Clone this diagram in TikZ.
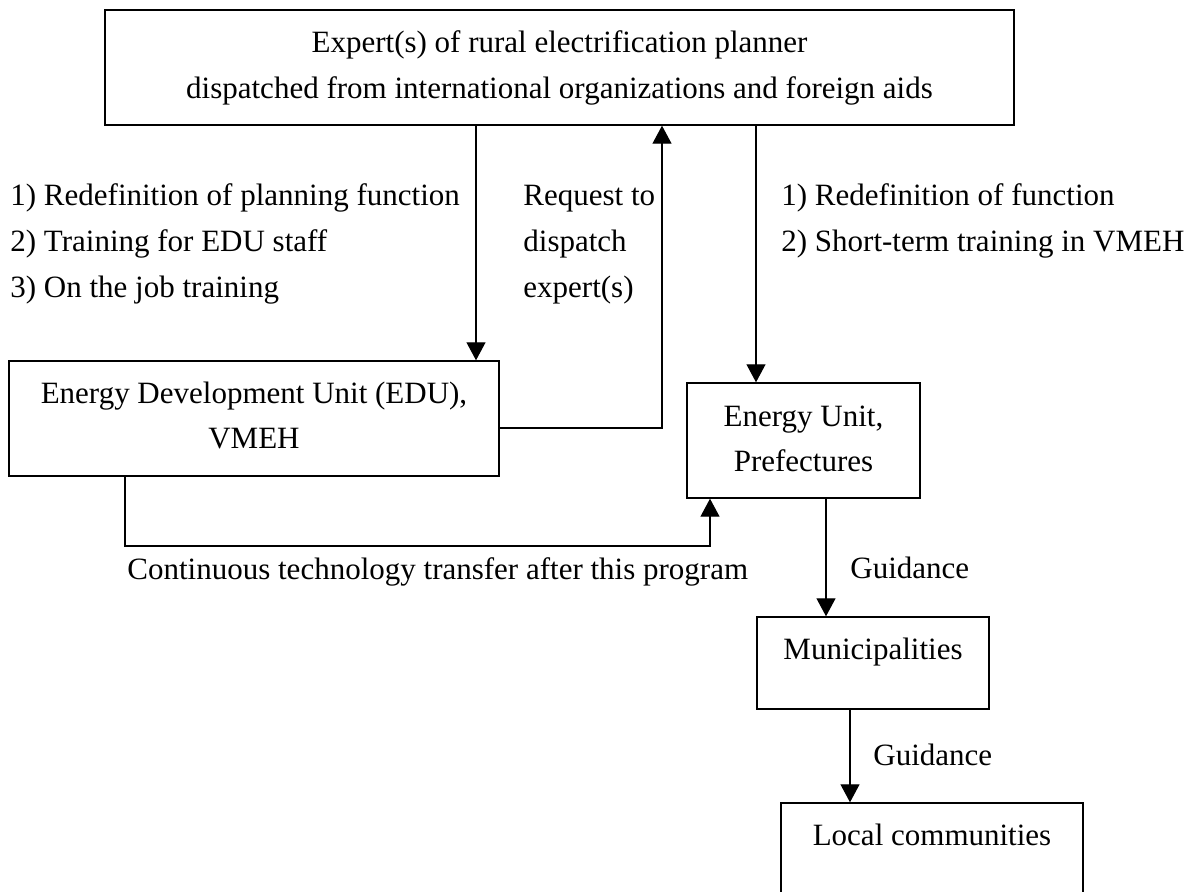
\documentclass[tikz,border=0pt]{standalone}
\usepackage{fontspec}
\setmainfont{Liberation Serif}
\usetikzlibrary{arrows.meta}
\begin{document}
\begin{tikzpicture}[x=0.5pt,y=-0.5pt,
  every node/.style={font=\fontsize{15.5}{23}\selectfont},
  box/.style={draw=black, line width=0.7pt, rectangle, inner sep=0pt, fill=white},
  txt/.style={inner sep=0pt, anchor=base},
  lbl/.style={inner sep=0pt, anchor=base west},
  conn/.style={draw=black, line width=0.6pt},
  arr/.style={conn, -{Triangle[width=9.5pt,length=9pt]}}]
\useasboundingbox (0,0) rectangle (1198,892);
\clip (0,0) rectangle (1198,892);
\fill[white] (0,0) rectangle (1198,892);
% boxes
\node[box, minimum width=454.5pt, minimum height=57.5pt] (top) at (559.5,67.5) {};
\node[box, minimum width=245pt, minimum height=57.5pt] (edu) at (254,418.5) {};
\node[box, minimum width=116.5pt, minimum height=57.5pt] (eu) at (803.5,440.5) {};
\node[box, minimum width=116pt, minimum height=46pt] (muni) at (873,663) {};
\node[box, minimum width=151pt, minimum height=60pt] (loc) at (932,863) {};
% box texts
\node[txt] (topA) at (559.5,53) {Expert(s) of rural electrification planner};
\node[txt] (topB) at (559.5,99) {dispatched from international organizations and foreign aids};
\node[txt] (eduA) at (254,404) {Energy Development Unit (EDU),};
\node[txt] (eduB) at (254,449) {VMEH};
\node[txt] (euA) at (803.5,427) {Energy Unit,};
\node[txt] (euB) at (803.5,472) {Prefectures};
\node[txt] (muniT) at (873,659) {Municipalities};
\node[txt] (locT) at (932,845) {Local communities};
% labels
\node[lbl] (l1) at (10,206) {1) Redefinition of planning function};
\node[lbl] (l2) at (10,252) {2) Training for EDU staff};
\node[lbl] (l3) at (10,298) {3) On the job training};
\node[lbl] (r1) at (523,206) {Request to};
\node[lbl] (r2) at (523,252) {dispatch};
\node[lbl] (r3) at (523,298) {expert(s)};
\node[lbl] (s1) at (781,206) {1) Redefinition of function};
\node[lbl] (s2) at (781,252) {2) Short-term training in VMEH};
\node[lbl] (ct) at (127,579) {Continuous technology transfer after this program};
\node[lbl] (g1) at (850,578) {Guidance};
\node[lbl] (g2) at (873,765) {Guidance};
% connectors
\coordinate (xa) at (476,0);
\coordinate (xb) at (662,428);
\coordinate (xc) at (756,0);
\coordinate (xd) at (125,546);
\coordinate (xe) at (710,546);
\coordinate (xf) at (826,0);
\coordinate (xg) at (850,0);
\draw[arr] (xa |- top.south) -- (xa |- edu.north);
\draw[arr] (edu.east |- xb) -- (xb) -- (xb |- top.south);
\draw[arr] (xc |- top.south) -- (xc |- eu.north);
\draw[arr] (xd |- edu.south) -- (xd) -- (xe) -- (xe |- eu.south);
\draw[arr] (xf |- eu.south) -- (xf |- muni.north);
\draw[arr] (xg |- muni.south) -- (xg |- loc.north);
\end{tikzpicture}
\end{document}
